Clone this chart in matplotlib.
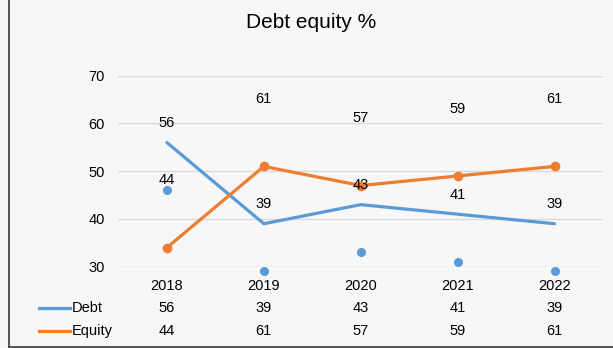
import matplotlib
matplotlib.use("Agg")
import matplotlib.pyplot as plt
import matplotlib.transforms as mtransforms
from matplotlib.lines import Line2D

# data
years = ['2018', '2019', '2020', '2021', '2022']
debt = [56, 39, 43, 41, 39]
equity = [44, 61, 57, 59, 61]
# what is actually drawn as marks in the chart
debt_line = [56, 39, 43, 41, 39]
equity_line = [34, 51, 47, 49, 51]
debt_dots = [46, 29, 33, 31, 29]

blue = '#5B9BD5'
orange = '#ED7D31'

plt.rcParams['font.family'] = ['Liberation Sans', 'DejaVu Sans']

fig = plt.figure(figsize=(6.13, 3.48), dpi=100, facecolor='#f7f7f7')
ax = fig.add_axes([0.1933, 0.2336, 0.7904, 0.5489])
ax.set_facecolor('none')

x = list(range(len(years)))
ax.set_xlim(-0.5, len(years) - 0.5)
ax.set_ylim(30, 70)
ax.set_yticks([30, 40, 50, 60, 70])
ax.set_xticks([])
ax.grid(axis='y', color='#d9d9d9', linewidth=1)
ax.set_axisbelow(True)
for s in ax.spines.values():
    s.set_visible(False)
ax.tick_params(axis='y', length=0, pad=10, labelsize=10.5, labelcolor='#000000')

ax.plot(x, debt_line, color=blue, linewidth=2.3, solid_capstyle='round', zorder=3)
ax.plot(x, equity_line, color=orange, linewidth=2.3, marker='o', markersize=6,
        solid_capstyle='round', zorder=3)
ax.plot(x, debt_dots, linestyle='none', marker='o', markersize=5.5, color=blue,
        clip_on=False, zorder=3)

# data labels above the true values
for i in x:
    ax.annotate(str(debt[i]), (i, debt[i]), xytext=(0, 14), textcoords='offset points',
                ha='center', va='center', fontsize=10.5, color='#000000', zorder=4)
    ax.annotate(str(equity[i]), (i, equity[i]), xytext=(0, 14), textcoords='offset points',
                ha='center', va='center', fontsize=10.5, color='#000000', zorder=4)

# data table under the plot
tr = mtransforms.blended_transform_factory(ax.transData, fig.transFigure)
row_y = [0.178, 0.114, 0.049]
for i in x:
    ax.text(i, row_y[0], years[i], transform=tr, ha='center', va='center', fontsize=10.5)
    ax.text(i, row_y[1], str(debt[i]), transform=tr, ha='center', va='center', fontsize=10.5)
    ax.text(i, row_y[2], str(equity[i]), transform=tr, ha='center', va='center', fontsize=10.5)

for yy, name, col in [(row_y[1], 'Debt', blue), (row_y[2], 'Equity', orange)]:
    fig.add_artist(Line2D([0.064, 0.115], [yy, yy], color=col, linewidth=2.3,
                          transform=fig.transFigure))
    fig.text(0.117, yy, name, ha='left', va='center', fontsize=10.5)

fig.text(0.508, 0.935, 'Debt equity %', ha='center', va='center', fontsize=15)

# frame lines on the left and bottom
fig.add_artist(Line2D([0.014, 0.014], [0.003, 1.0], color='#3a3a3a', linewidth=1.2,
                      transform=fig.transFigure))
fig.add_artist(Line2D([0.014, 1.0], [0.003, 0.003], color='#3a3a3a', linewidth=1.2,
                      transform=fig.transFigure))

fig.savefig('out.png', dpi=100, facecolor=fig.get_facecolor())
